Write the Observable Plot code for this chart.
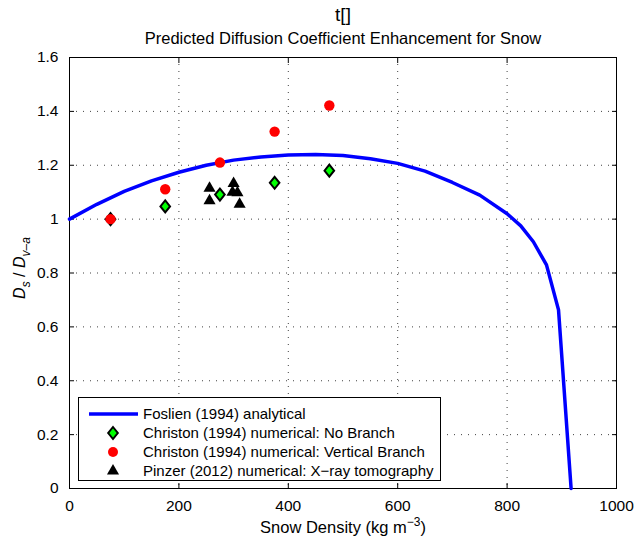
<!DOCTYPE html>
<html><head><meta charset="utf-8">
<script src="https://cdn.jsdelivr.net/npm/d3@7"></script>
<script src="https://cdn.jsdelivr.net/npm/@observablehq/plot@0.6"></script>
<style>
body{margin:0;background:#fff;}
#wrap{position:relative;width:635px;height:540px;font-family:"Liberation Sans",Arial,sans-serif;}
#legend{position:absolute;left:78px;top:397px;width:361px;height:82px;border:1px solid #000;background:#fff;}
</style></head><body><div id="wrap"></div>
<script>
// ---- data ----
const titleText = "t[]";
const subtitleText = "Predicted Diffusion Coefficient Enhancement for Snow";
const xTicks = [0, 200, 400, 600, 800, 1000];
const yTicks = [0, 0.2, 0.4, 0.6, 0.8, 1, 1.2, 1.4, 1.6];

// Foslien (1994) analytical curve
const curveDensity = [0, 50, 100, 150, 200, 250, 300, 350, 400, 450, 500, 550, 600, 650, 700, 750, 800, 825, 848, 872, 894, 917];
const curveRatio   = [1.000, 1.055, 1.103, 1.142, 1.174, 1.200, 1.219, 1.231, 1.238, 1.240, 1.236, 1.224, 1.207, 1.178, 1.136, 1.089, 1.020, 0.975, 0.916, 0.830, 0.663, 0.0];

// Christon (1994)
const christonDensity = [75, 175, 275, 375, 475];
const noBranch        = [1.000, 1.047, 1.091, 1.135, 1.180];
const verticalBranch  = [1.000, 1.111, 1.210, 1.325, 1.422];

// Pinzer (2012)
const pinzerDensity = [256, 256, 300, 298, 307, 311];
const pinzerRatio   = [1.115, 1.068, 1.132, 1.100, 1.098, 1.055];

const legendLabels = [
  "Foslien (1994) analytical",
  "Christon (1994) numerical: No Branch",
  "Christon (1994) numerical: Vertical Branch",
  "Pinzer (2012) numerical: X\u2212ray tomography"
];

// ---- tables ----
const curve = curveDensity.map((d, i) => ({d, r: curveRatio[i]}));
const nb = christonDensity.map((d, i) => ({d, r: noBranch[i]}));
const vb = christonDensity.map((d, i) => ({d, r: verticalBranch[i]}));
const pz = pinzerDensity.map((d, i) => ({d, r: pinzerRatio[i]}));

const diamondSym = {draw(ctx, size) {
  const h = Math.sqrt(size / Math.PI), w = h * 0.8;
  ctx.moveTo(0, -h); ctx.lineTo(w, 0); ctx.lineTo(0, h); ctx.lineTo(-w, 0); ctx.closePath();
}};

const font = "Liberation Sans, Arial, sans-serif";
const fmt = d => String(d);

const plot = Plot.plot({
  width: 635, height: 540,
  marginTop: 57, marginBottom: 52, marginLeft: 69, marginRight: 19,
  style: {fontFamily: font, fontSize: "15px", background: "white", color: "black", overflow: "visible"},
  x: {domain: [0, 1000], ticks: xTicks, label: null},
  y: {domain: [0, 1.6], ticks: yTicks, label: null},
  marks: [
    Plot.gridX(xTicks, {stroke: "#000", strokeOpacity: 0.75, strokeDasharray: "1,6"}),
    Plot.gridY(yTicks, {stroke: "#000", strokeOpacity: 0.75, strokeDasharray: "1,6"}),
    Plot.axisX(xTicks, {anchor: "bottom", tickSize: -5, tickPadding: 16, tickFormat: fmt, fontSize: 15.5}),
    Plot.axisX(xTicks, {anchor: "top", tickSize: -5, tickFormat: () => ""}),
    Plot.axisY(yTicks, {anchor: "left", tickSize: -5, tickPadding: 16, tickFormat: fmt, fontSize: 15.5}),
    Plot.axisY(yTicks, {anchor: "right", tickSize: -5, tickFormat: () => ""}),
    Plot.frame({stroke: "#000"}),
    Plot.line(curve, {x: "d", y: "r", stroke: "#0000ff", strokeWidth: 3.5}),
    Plot.dot(nb, {x: "d", y: "r", symbol: diamondSym, r: 6, fill: "#00ff00", stroke: "#000", strokeWidth: 2}),
    Plot.dot(vb, {x: "d", y: "r", symbol: "circle", r: 5.2, fill: "#ff0000"}),
    Plot.dot(pz, {x: "d", y: "r", symbol: "triangle", r: 4.5, fill: "#000"}),
    Plot.text([titleText], {frameAnchor: "top", dy: -50, fontSize: 19, fill: "#000"}),
    Plot.text([subtitleText], {frameAnchor: "top", dy: -25, fontSize: 16.5, fill: "#000"})
  ]
});

const wrap = document.getElementById("wrap");
wrap.appendChild(plot);

// axis labels with sub/superscripts
const svg = d3.select(plot);
const xl = svg.append("text").attr("x", 343).attr("y", 533).attr("text-anchor", "middle")
  .attr("font-family", font).attr("font-size", 16.5).attr("fill", "#000");
xl.append("tspan").text("Snow Density (kg m");
xl.append("tspan").attr("dy", -7).attr("font-size", 12).text("\u22123");
xl.append("tspan").attr("dy", 7).text(")");

const yl = svg.append("text").attr("transform", "translate(25,268) rotate(-90)").attr("text-anchor", "middle")
  .attr("font-family", font).attr("font-size", 16).attr("fill", "#000");
yl.append("tspan").attr("font-style", "italic").text("D");
yl.append("tspan").attr("dy", 5).attr("font-size", 12).attr("font-style", "italic").text("s");
yl.append("tspan").attr("dy", -5).text(" / ");
yl.append("tspan").attr("font-style", "italic").text("D");
yl.append("tspan").attr("dy", 5).attr("font-size", 12).attr("font-style", "italic").text("v\u2013a");

// legend
const leg = d3.select(wrap).append("div").attr("id", "legend");
const ls = leg.append("svg").attr("width", 361).attr("height", 82);
const rowY = [16, 35, 54, 73];
ls.append("line").attr("x1", 10).attr("x2", 59).attr("y1", rowY[0]).attr("y2", rowY[0]).attr("stroke", "#0000ff").attr("stroke-width", 3.5);
ls.append("path").attr("d", d3.symbol(diamondSym, Math.PI * 36)()).attr("transform", `translate(34,${rowY[1]})`).attr("fill", "#00ff00").attr("stroke", "#000").attr("stroke-width", 2);
ls.append("circle").attr("cx", 34).attr("cy", rowY[2]).attr("r", 5).attr("fill", "#ff0000");
ls.append("path").attr("d", d3.symbol(d3.symbolTriangle, Math.PI * 4.5 * 4.5)()).attr("transform", `translate(34,${rowY[3]})`).attr("fill", "#000");
ls.selectAll("text.l").data(legendLabels).join("text").attr("class", "l")
  .attr("x", 64).attr("y", (d, i) => rowY[i]).attr("dy", "0.35em")
  .attr("font-family", font).attr("font-size", 15).attr("fill", "#000").text(d => d);
</script>
</body></html>
